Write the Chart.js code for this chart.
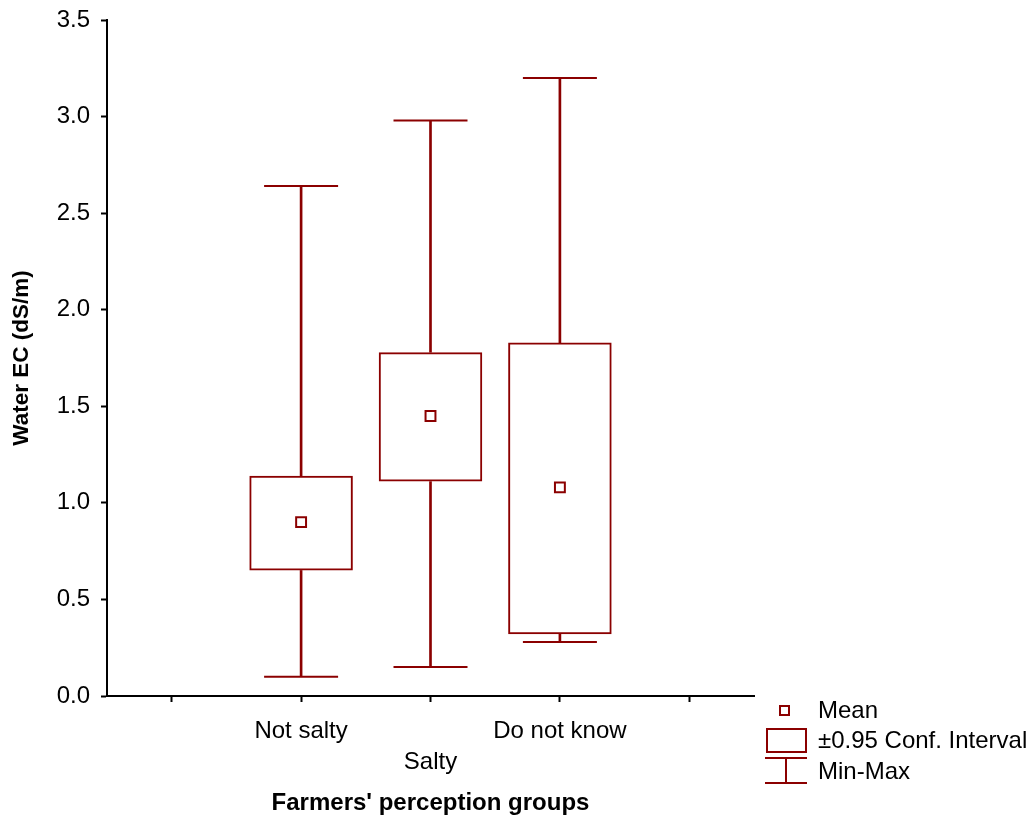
<!DOCTYPE html>
<html>
<head>
<meta charset="utf-8">
<script src="https://cdn.jsdelivr.net/npm/chart.js@4.4.1/dist/chart.umd.min.js"></script>
<style>
  html, body { margin: 0; padding: 0; background: #fff; }
  #wrap { width: 1031px; height: 818px; }
</style>
</head>
<body>
<div id="wrap"><canvas id="myChart" width="1031" height="818"></canvas></div>
<script>
// groups on the x axis (empty slots at both ends, like the original plot)
const groups = ['', 'Not salty', 'Salty', 'Do not know', ''];
const means  = [null, 0.90, 1.45, 1.08, null];
const ciLow  = [null, 0.65, 1.11, 0.32, null];
const ciHigh = [null, 1.14, 1.78, 1.83, null];
const mins   = [null, 0.10, 0.15, 0.28, null];
const maxs   = [null, 2.64, 2.98, 3.20, null];
const yTicks = [0, 0.5, 1.0, 1.5, 2.0, 2.5, 3.0, 3.5];

const red = '#8b0000';
const font = 'Liberation Sans, Arial, sans-serif';

const pairs = (a, b) => a.map((v, i) => v == null ? null : [v, b[i]]);
const labelKeys = groups.map((g, i) => g + '#' + i);
// empty slots get radius 0 so the points don't push the chart area in
const rad = r => c => c.raw == null ? 0 : r;

// legend at the bottom right, drawn by hand
const legendPlugin = {
  id: 'boxLegend',
  afterDraw(chart) {
    const c = chart.ctx;
    c.save();
    c.strokeStyle = red;
    c.lineWidth = 2;
    c.strokeRect(780, 706, 9, 9);
    c.strokeRect(767, 729, 39, 23);
    c.beginPath();
    c.moveTo(765, 758); c.lineTo(807, 758);
    c.moveTo(786, 758); c.lineTo(786, 783);
    c.moveTo(765, 783); c.lineTo(807, 783);
    c.stroke();
    c.fillStyle = '#000';
    c.font = '24px ' + font;
    c.textBaseline = 'middle';
    c.fillText('Mean', 818, 711);
    c.fillText('\u00b10.95 Conf. Interval', 818, 741);
    c.fillText('Min-Max', 818, 772);
    c.restore();
  }
};

const ctx = document.getElementById('myChart').getContext('2d');
const myChart = new Chart(ctx, {
  type: 'bar',
  data: {
    labels: labelKeys,
    datasets: [
      {
        label: 'CI',
        data: pairs(ciLow, ciHigh),
        backgroundColor: 'rgba(0,0,0,0)',
        borderColor: red,
        borderWidth: 2,
        borderSkipped: false,
        grouped: false,
        categoryPercentage: 1,
        barPercentage: 0.8,
        order: 2
      },
      {
        label: 'upper',
        data: pairs(ciHigh, maxs),
        backgroundColor: red,
        borderWidth: 0,
        grouped: false,
        barThickness: 2,
        order: 3
      },
      {
        label: 'lower',
        data: pairs(mins, ciLow),
        backgroundColor: red,
        borderWidth: 0,
        grouped: false,
        barThickness: 2,
        order: 3
      },
      {
        type: 'line',
        label: 'max',
        data: maxs,
        showLine: false,
        pointStyle: 'line',
        pointRadius: rad(37),
        borderColor: red,
        borderWidth: 2,
        order: 1
      },
      {
        type: 'line',
        label: 'min',
        data: mins,
        showLine: false,
        pointStyle: 'line',
        pointRadius: rad(37),
        borderColor: red,
        borderWidth: 2,
        order: 1
      },
      {
        type: 'line',
        label: 'Mean',
        data: means,
        showLine: false,
        pointStyle: 'rect',
        pointRadius: rad(7),
        pointBackgroundColor: '#fff',
        borderColor: red,
        pointBorderColor: red,
        pointBorderWidth: 2,
        order: 0
      }
    ]
  },
  options: {
    responsive: false,
    animation: false,
    events: [],
    layout: { padding: { top: 20, right: 277, bottom: 0, left: 0 } },
    plugins: {
      legend: { display: false },
      tooltip: { enabled: false }
    },
    scales: {
      x: {
        offset: true,
        grid: { offset: false, drawOnChartArea: false, tickLength: 6, tickWidth: 2, tickColor: '#000' },
        border: { color: '#000', width: 2 },
        ticks: {
          autoSkip: false,
          maxRotation: 0,
          padding: 14,
          color: '#000',
          font: { family: font, size: 24, lineHeight: '31px' },
          callback: function(v, i) {
            const g = groups[i];
            return g === 'Salty' ? ['', g] : g;
          }
        },
        title: {
          display: true,
          text: "Farmers' perception groups",
          color: '#000',
          font: { family: font, size: 24, weight: 'bold' },
          padding: { top: 0, bottom: 0 }
        },
        afterFit: s => { s.height = 122; s.paddingLeft = 0; s.paddingRight = 0; }
      },
      y: {
        min: 0,
        max: 3.5,
        afterBuildTicks: s => { s.ticks = yTicks.map(v => ({ value: v })); },
        grid: { drawOnChartArea: false, tickLength: 6, tickWidth: 2, tickColor: '#000' },
        border: { color: '#000', width: 2 },
        ticks: {
          padding: 11,
          color: '#000',
          font: { family: font, size: 24 },
          callback: v => v.toFixed(1)
        },
        title: {
          display: true,
          text: 'Water EC (dS/m)',
          color: '#000',
          font: { family: font, size: 22.5, weight: 'bold' },
          padding: { top: 8, bottom: 0 }
        },
        afterFit: s => { s.width = 107; s.paddingTop = 0; s.paddingBottom = 0; }
      }
    }
  },
  plugins: [legendPlugin]
});
</script>
</body>
</html>
